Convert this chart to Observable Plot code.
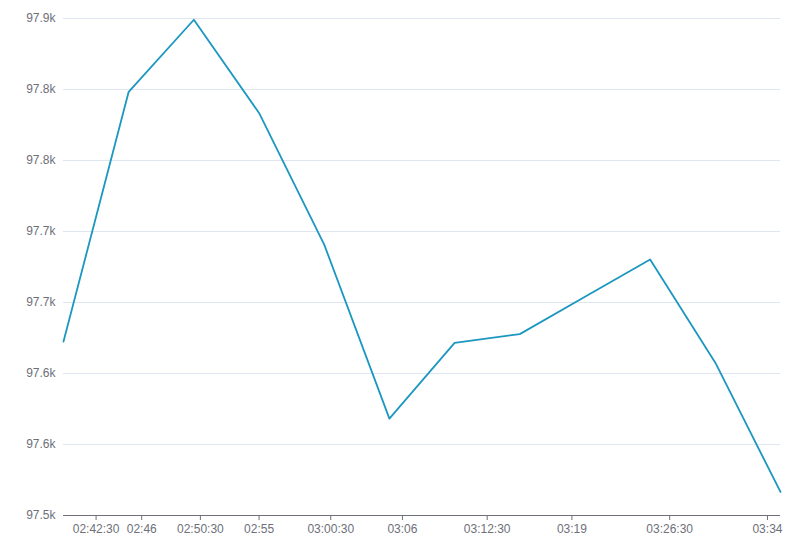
<!DOCTYPE html>
<html><head><meta charset="utf-8">
<script src="https://cdn.jsdelivr.net/npm/d3@7"></script>
<script src="https://cdn.jsdelivr.net/npm/@observablehq/plot@0.6"></script>
<style>body{margin:0;background:#fff}</style>
</head><body><div id="chart"></div>
<script>
const times = ["02:40","02:45","02:50","02:55","03:00","03:05","03:10","03:15","03:20","03:25","03:30","03:35"];
const prices = [97640, 97841, 97899, 97824, 97718, 97578, 97639, 97646, 97676, 97706, 97623, 97519];
const xTickLabels = ["02:42:30","02:46","02:50:30","02:55","03:00:30","03:06","03:12:30","03:19","03:26:30","03:34"];
const yTickValues = [97500, 97557.14, 97614.29, 97671.43, 97728.57, 97785.71, 97842.86, 97900];
const yTickLabels = ["97.5k","97.6k","97.6k","97.7k","97.7k","97.8k","97.8k","97.9k"];
const xDomain = ["02:40","03:35"];

const parseT = s => d3.utcParse(s.length > 5 ? "%H:%M:%S" : "%H:%M")(s);
const data = times.map((t, i) => ({time: parseT(t), price: prices[i]}));
const xTicks = xTickLabels.map(parseT);
const xLab = new Map(xTicks.map((d, i) => [+d, xTickLabels[i]]));
const yLab = new Map(yTickValues.map((d, i) => [d, yTickLabels[i]]));

const chart = Plot.plot({
  width: 800, height: 551,
  marginLeft: 63, marginRight: 20, marginTop: 18, marginBottom: 36,
  style: {fontFamily: "Helvetica, 'Liberation Sans', Arial, sans-serif", fontSize: "12px", color: "#6E7079", background: "#fff"},
  x: {type: "utc", domain: xDomain.map(parseT)},
  y: {domain: [97500, 97900]},
  marks: [
    Plot.gridY(yTickValues, {stroke: "#E0E6F1", strokeOpacity: 1, strokeWidth: 1}),
    Plot.axisY(yTickValues, {tickSize: 0, tickPadding: 8, tickFormat: d => yLab.get(d), label: null, fill: "#6E7079"}),
    Plot.ruleY([97500], {stroke: "#6E7079", strokeWidth: 1}),
    Plot.axisX(xTicks, {tickSize: 5, tickPadding: 4, tickFormat: d => xLab.get(+d), label: null, stroke: "#6E7079", fill: "#6E7079"}),
    Plot.lineY(data, {x: "time", y: "price", stroke: "#1b97c0", strokeWidth: 1.8})
  ]
});
document.getElementById("chart").append(chart);
</script>
</body></html>
